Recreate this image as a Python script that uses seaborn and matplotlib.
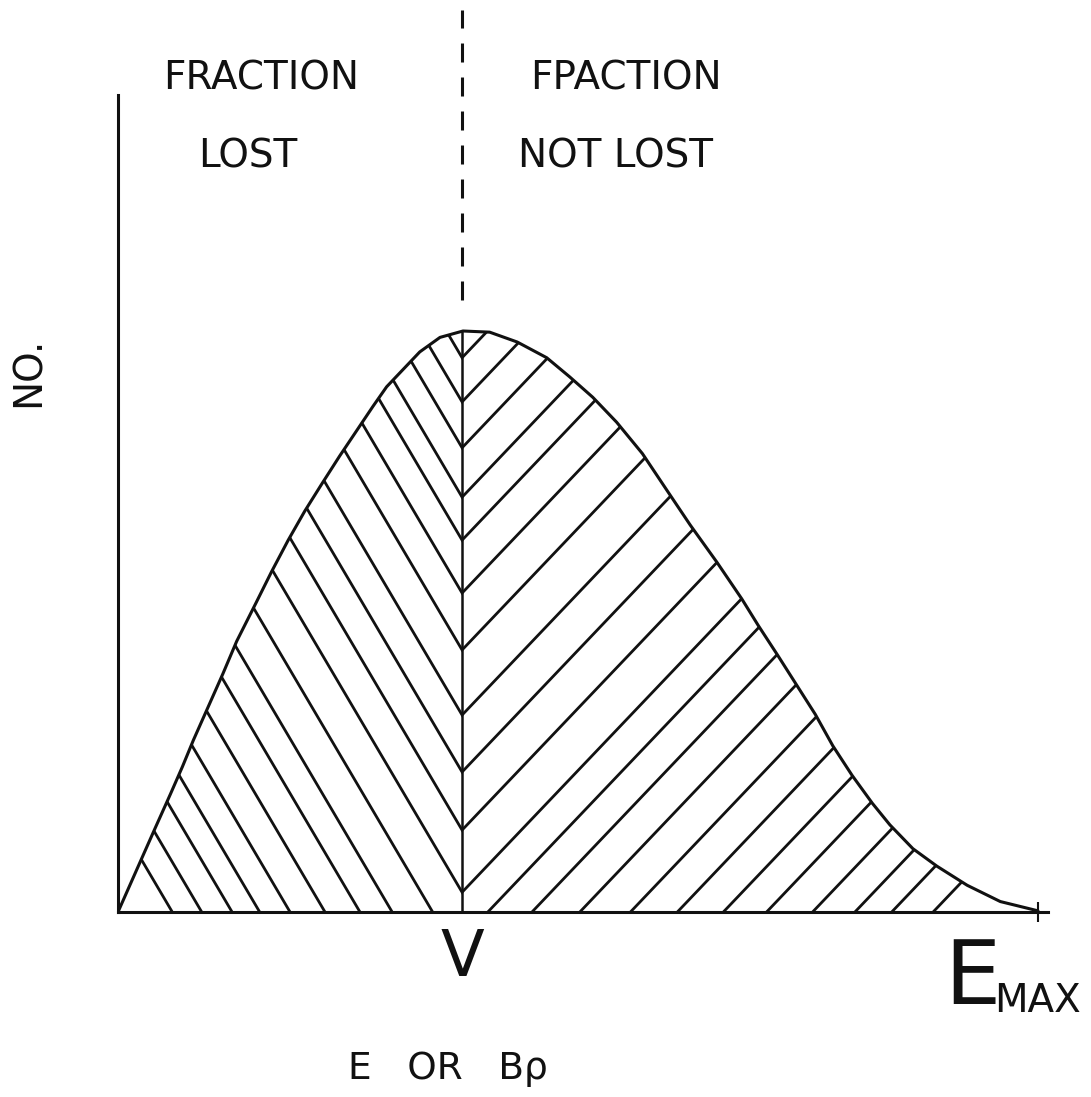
import numpy as np
import matplotlib
matplotlib.use("Agg")
import matplotlib.pyplot as plt
from matplotlib.patches import Polygon
import seaborn as sns

# Energy spectrum in arbitrary units (E_MAX = 10, peak = 100)
energy = [0.0, 0.26, 0.40, 0.57, 0.70, 0.82, 1.14, 1.29, 1.50, 1.67, 1.85,
          2.03, 2.22, 2.41, 2.77, 2.92, 3.28, 3.50, 3.75, 4.04, 4.34,
          4.66, 4.91, 5.16, 5.42, 5.70, 5.97, 6.22, 6.51, 6.78, 6.96,
          7.17, 7.58, 7.77, 7.98, 8.20, 8.39, 8.64, 8.90, 9.23, 9.59, 10.0]
counts = [0.0, 9.3, 14.3, 20.3, 25.0, 29.6, 41.0, 46.6, 53.2, 58.6, 64.0,
          69.0, 73.8, 78.5, 87.0, 90.4, 96.4, 98.9, 100.0, 99.8, 98.1,
          95.4, 92.1, 88.6, 84.3, 78.9, 72.5, 66.6, 60.2, 53.9, 49.3,
          44.2, 34.0, 28.6, 23.5, 18.7, 15.0, 10.9, 7.9, 4.6, 1.8, 0.2]

V_CUT = 3.74      # cut-off energy V
E_MAX = 10.0

# Hatching: heights where the chevrons meet on the V line,
# and feet of the hatch strokes on the energy axis
chevron_heights = [3.4, 14.1, 24.1, 33.9, 45.1, 54.9, 64.0, 71.4, 79.9, 87.8, 95.4]
left_feet = [0.59, 0.91, 1.24, 1.54, 1.87, 2.25, 2.63, 2.98, 3.42]
right_feet = [4.02, 4.50, 5.02, 5.57, 6.08, 6.58, 7.05, 7.55, 8.01, 8.41, 8.86]
LEFT_ANGLE = 59.5   # degrees on screen, "lost" side
RIGHT_ANGLE = 46.4  # degrees on screen, "not lost" side

W, H = 1091, 1097
sns.set_style("white")
plt.rcParams["font.family"] = ["DejaVu Sans"]

fig = plt.figure(figsize=(W / 100, H / 100), dpi=100)
ax_l, ax_r, ax_t, ax_b = 118, 1048, 95, 912
ax = fig.add_axes([ax_l / W, 1 - ax_b / H, (ax_r - ax_l) / W, (ax_b - ax_t) / H])
xmax = (ax_r - ax_l) / 92.0
ymax = (ax_b - ax_t) / 5.81
ax.set_xlim(0, xmax)
ax.set_ylim(0, ymax)

ink = "#111111"
lw = 2.2

# spectrum curve
sns.lineplot(x=energy, y=counts, sort=False, estimator=None, color=ink,
             lw=lw, ax=ax)
ax.lines[-1].set_solid_joinstyle("round")

# regions below the curve, either side of V, used to clip the hatching
e = np.array(energy)
c = np.array(counts)
c_at_v = float(np.interp(V_CUT, e, c))
left_pts = [(0, 0)] + [(x, y) for x, y in zip(e, c) if x < V_CUT] + [(V_CUT, c_at_v), (V_CUT, 0)]
right_pts = [(V_CUT, 0), (V_CUT, c_at_v)] + [(x, y) for x, y in zip(e, c) if x > V_CUT] + [(E_MAX, 0)]
left_patch = Polygon(left_pts, closed=True, fc="none", ec="none")
right_patch = Polygon(right_pts, closed=True, fc="none", ec="none")
ax.add_patch(left_patch)
ax.add_patch(right_patch)

# screen slopes converted to data slopes
px_x = (ax_r - ax_l) / xmax
px_y = (ax_b - ax_t) / ymax
sL = np.tan(np.radians(LEFT_ANGLE)) * px_x / px_y
sR = np.tan(np.radians(RIGHT_ANGLE)) * px_x / px_y
span = 12.0


def stroke(x0, y0, slope, patch):
    xs = np.array([x0 - span, x0 + span])
    ys = y0 + slope * (xs - x0)
    ln, = ax.plot(xs, ys, color=ink, lw=2.0, solid_capstyle="butt")
    ln.set_clip_path(patch)


for h in chevron_heights:
    stroke(V_CUT, h, -sL, left_patch)
    stroke(V_CUT, h, sR, right_patch)
for f in left_feet:
    stroke(f, 0.0, -sL, left_patch)
for f in right_feet:
    stroke(f, 0.0, sR, right_patch)

# V line: solid under the curve, dashed above it
ax.plot([V_CUT, V_CUT], [0, c_at_v], color=ink, lw=1.8)
dash_lw = 2.2
ax.plot([V_CUT, V_CUT], [(ax_b - 300) / 5.81, (ax_b - 10) / 5.81], color=ink,
        lw=dash_lw, ls=(0, (19 / 1.389 / dash_lw, 15 / 1.389 / dash_lw)),
        clip_on=False)

# axes
for side in ["top", "right"]:
    ax.spines[side].set_visible(False)
for side in ["left", "bottom"]:
    ax.spines[side].set_color(ink)
    ax.spines[side].set_linewidth(lw)
ax.set_xticks([E_MAX])
ax.set_yticks([])
ax.tick_params(axis="x", direction="inout", length=14, width=1.5,
               color=ink, labelbottom=False, bottom=True)


def ftext(px, py, s, size, **kw):
    fig.text(px / W, 1 - py / H, s, fontsize=size, color=ink, **kw)


ftext(261, 90, "FRACTION", 28, ha="center", va="baseline")
ftext(248, 167, "LOST", 28, ha="center", va="baseline")
ftext(626, 90, "FPACTION", 28, ha="center", va="baseline")
ftext(616, 167, "NOT LOST", 28, ha="center", va="baseline")
ftext(29, 372, "NO.", 28, ha="center", va="center", rotation=90)
ftext(462, 976, "V", 46, ha="center", va="baseline")
ftext(944, 1004, "E", 64, ha="left", va="baseline")
ftext(994, 1012, "MAX", 28, ha="left", va="baseline")
ftext(348, 1079, "E   OR   B\u03c1", 27, ha="left", va="baseline")

fig.savefig("out.png", dpi=100, facecolor="white")
